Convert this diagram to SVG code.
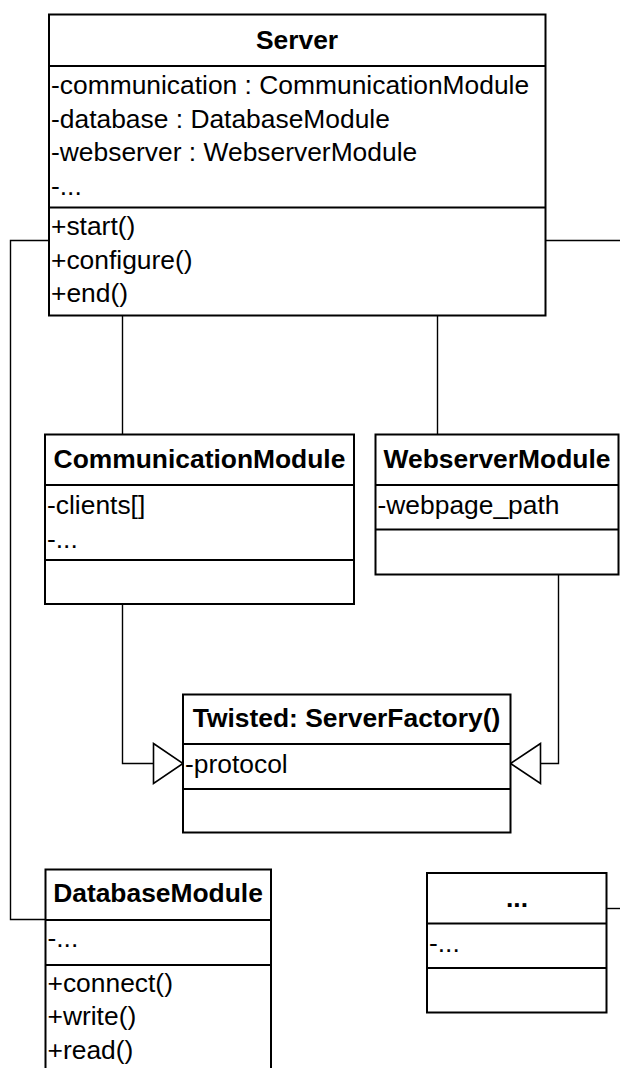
<svg xmlns="http://www.w3.org/2000/svg" width="620" height="1068" viewBox="0 0 620 1068">
  <style>
    .box { fill: #ffffff; stroke: #000000; stroke-width: 2; }
    .sep { stroke: #000000; stroke-width: 2; }
    .edge { fill: none; stroke: #000000; stroke-width: 1.4; }
    .head { fill: #ffffff; stroke: #000000; stroke-width: 1.6; stroke-linejoin: miter; }
    .title { font-family: "Liberation Sans", Arial, sans-serif; font-size: 26.4px; font-weight: bold; text-anchor: middle; fill: #000000; }
    .item { font-family: "Liberation Sans", Arial, sans-serif; font-size: 26.4px; fill: #000000; }
  </style>
  <rect x="0" y="0" width="620" height="1068" fill="#ffffff"/>

  <!-- connectors -->
  <g id="connectors">
    <!-- Server to DatabaseModule -->
    <polyline class="edge" points="49,240.5 10.5,240.5 10.5,919.5 45.5,919.5"/>
    <!-- Server to the unnamed module on the right -->
    <line class="edge" x1="545.5" y1="240.5" x2="620" y2="240.5"/>
    <line class="edge" x1="606.5" y1="908.5" x2="620" y2="908.5"/>
    <!-- Server to CommunicationModule / WebserverModule -->
    <line class="edge" x1="122.5" y1="315.5" x2="122.5" y2="434.5"/>
    <line class="edge" x1="437.5" y1="315.5" x2="437.5" y2="434.5"/>
    <!-- generalisation to ServerFactory -->
    <polyline class="edge" points="122.5,604 122.5,763.5 153.5,763.5"/>
    <polygon class="head" points="153.5,743.5 183,763.5 153.5,783.5"/>
    <polyline class="edge" points="558.5,574.5 558.5,763.5 540.5,763.5"/>
    <polygon class="head" points="540.5,743.5 510.5,763.5 540.5,783.5"/>
  </g>

  <g id="server">
    <rect class="box" x="49" y="14.5" width="496.5" height="301"/>
    <line class="sep" x1="49" y1="66" x2="545.5" y2="66"/>
    <line class="sep" x1="49" y1="207.5" x2="545.5" y2="207.5"/>
    <text class="title" x="297" y="48.5">Server</text>
    <text class="item" x="51" y="93.5">-communication : CommunicationModule</text>
    <text class="item" x="51" y="127.5">-database : DatabaseModule</text>
    <text class="item" x="51" y="161">-webserver : WebserverModule</text>
    <text class="item" x="51" y="195">-...</text>
    <text class="item" x="51" y="235">+start()</text>
    <text class="item" x="51" y="268.5">+configure()</text>
    <text class="item" x="51" y="302">+end()</text>
  </g>

  <g id="communication-module">
    <rect class="box" x="45" y="434.5" width="309" height="169.5"/>
    <line class="sep" x1="45" y1="485" x2="354" y2="485"/>
    <line class="sep" x1="45" y1="560" x2="354" y2="560"/>
    <text class="title" x="199.5" y="468">CommunicationModule</text>
    <text class="item" x="47" y="514">-clients[]</text>
    <text class="item" x="47" y="548">-...</text>
  </g>

  <g id="webserver-module">
    <rect class="box" x="375.5" y="434.5" width="243" height="140"/>
    <line class="sep" x1="375.5" y1="485" x2="618.5" y2="485"/>
    <line class="sep" x1="375.5" y1="529.5" x2="618.5" y2="529.5"/>
    <text class="title" x="497" y="468">WebserverModule</text>
    <text class="item" x="377.5" y="514">-webpage_path</text>
  </g>

  <g id="server-factory">
    <rect class="box" x="183" y="694.5" width="327.5" height="138"/>
    <line class="sep" x1="183" y1="744" x2="510.5" y2="744"/>
    <line class="sep" x1="183" y1="789" x2="510.5" y2="789"/>
    <text class="title" x="346.5" y="727">Twisted: ServerFactory()</text>
    <text class="item" x="185" y="773">-protocol</text>
  </g>

  <g id="database-module">
    <rect class="box" x="45.5" y="869.5" width="225.5" height="210"/>
    <line class="sep" x1="45.5" y1="920" x2="271" y2="920"/>
    <line class="sep" x1="45.5" y1="965" x2="271" y2="965"/>
    <text class="title" x="158" y="902">DatabaseModule</text>
    <text class="item" x="47.5" y="947">-...</text>
    <text class="item" x="47.5" y="992">+connect()</text>
    <text class="item" x="47.5" y="1025">+write()</text>
    <text class="item" x="47.5" y="1058.5">+read()</text>
  </g>

  <g id="other-module">
    <rect class="box" x="427" y="873" width="179.5" height="139.5"/>
    <line class="sep" x1="427" y1="923.5" x2="606.5" y2="923.5"/>
    <line class="sep" x1="427" y1="968" x2="606.5" y2="968"/>
    <text class="title" x="517" y="907">...</text>
    <text class="item" x="429" y="952">-...</text>
  </g>
</svg>
